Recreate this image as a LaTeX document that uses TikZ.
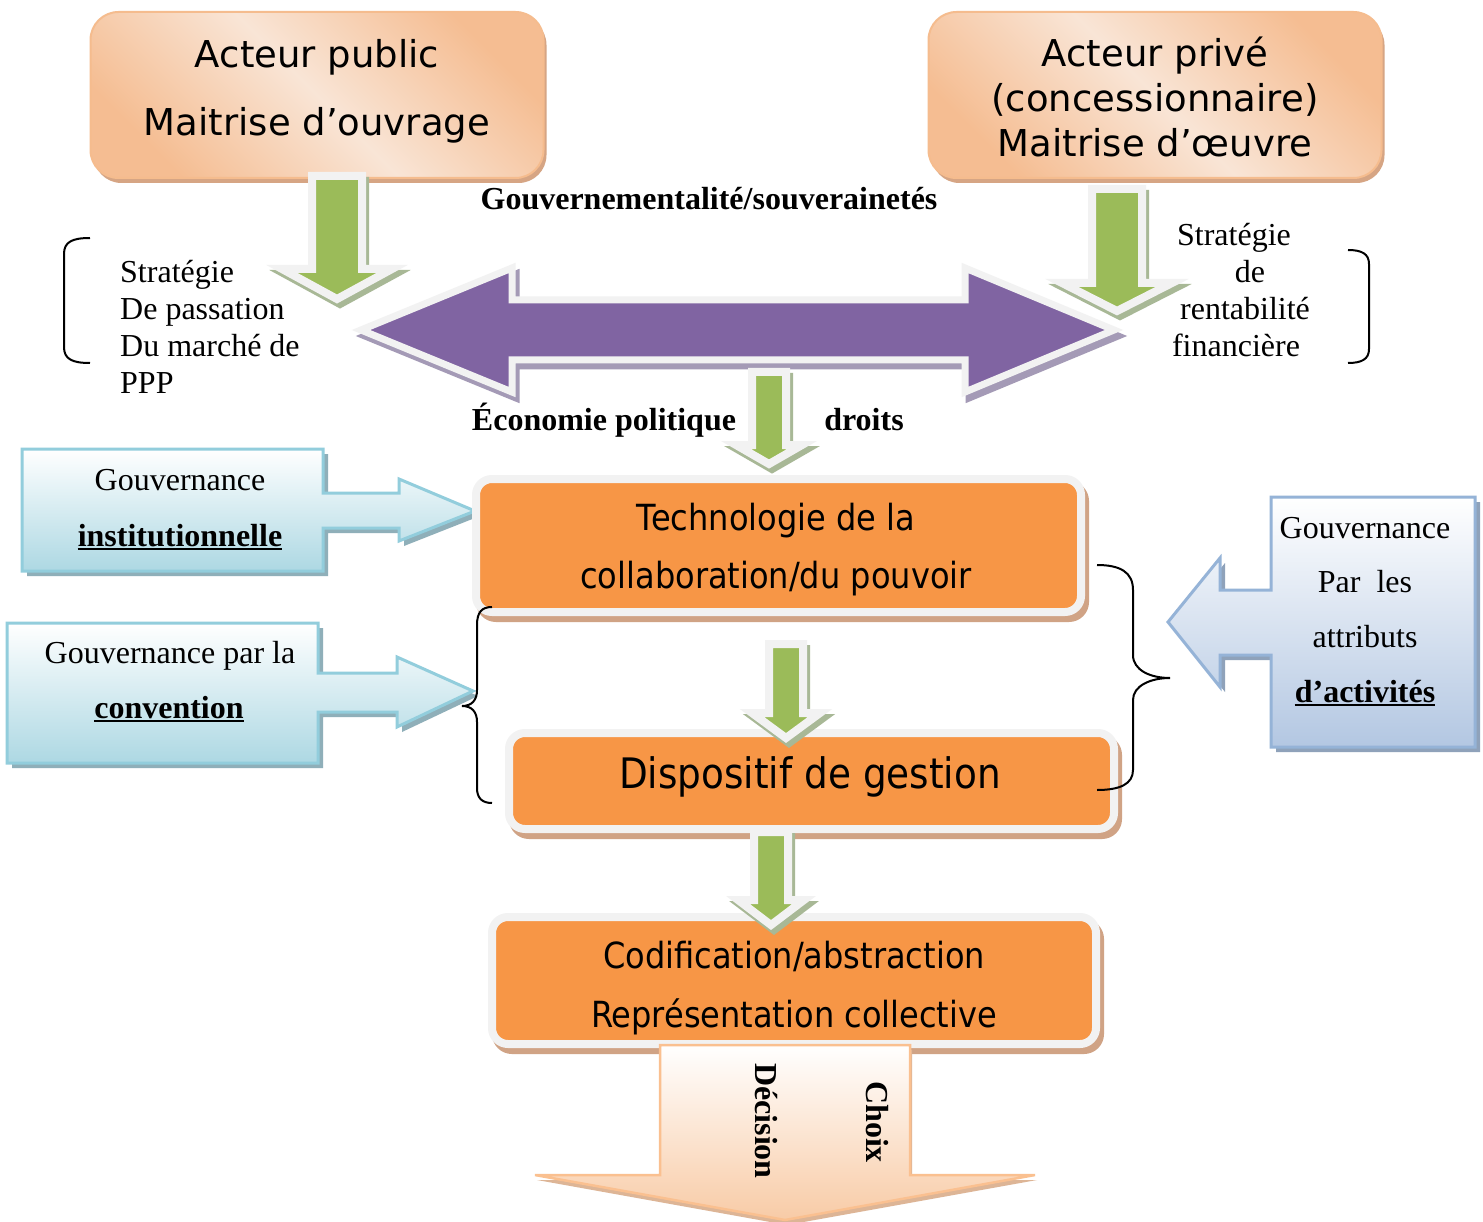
\documentclass[tikz,border=0pt]{standalone}
\usepackage{fontspec}
\setmainfont{Liberation Serif}
\newfontfamily\verd{DejaVu Sans}
\newfontfamily\tahom[FakeStretch=0.89]{DejaVu Sans}
\usetikzlibrary{shadows}
\definecolor{grn}{HTML}{9BBB59}
\definecolor{wbord}{HTML}{F2F2F2}
\definecolor{gshc}{HTML}{A8B896}
\definecolor{purp}{HTML}{8064A2}
\definecolor{pshc}{HTML}{A49AB6}
\definecolor{orng}{HTML}{F79646}
\definecolor{oshc}{HTML}{D0A385}
\definecolor{peachD}{HTML}{F5BD92}
\definecolor{peachL}{HTML}{F9E5D6}
\definecolor{peachB}{HTML}{F5BC8E}
\definecolor{peachS}{HTML}{D6A584}
\definecolor{cyanF}{HTML}{ADD8E3}
\definecolor{cyanB}{HTML}{92CDDC}
\definecolor{cyanS}{HTML}{8FAFB9}
\definecolor{blueF}{HTML}{B3C7E2}
\definecolor{blueB}{HTML}{95B3D7}
\definecolor{blueS}{HTML}{8FA2BA}
\definecolor{bF}{HTML}{F8CBA6}
\definecolor{bB}{HTML}{FAC090}
\definecolor{bS}{HTML}{DDB596}
\newcommand\garr[6]{%
 \path[gsh, shift={(3,5)}] ({#1-#5},#2) -- ({#1+#5},#2) -- ({#1+#5},#3) -- ({#1+#6},#3) -- (#1,#4) -- ({#1-#6},#3) -- ({#1-#5},#3) -- cycle;
 \path[gmain] ({#1-#5},#2) -- ({#1+#5},#2) -- ({#1+#5},#3) -- ({#1+#6},#3) -- (#1,#4) -- ({#1-#6},#3) -- ({#1-#5},#3) -- cycle;
}
\begin{document}
\begin{tikzpicture}[x=1pt,y=-1pt,
 gsh/.style={fill=gshc, draw=gshc, line width=8pt, line join=miter},
 gmain/.style={fill=grn, draw=wbord, line width=8pt, line join=miter},
 topbox/.style={rounded corners=28pt, minimum width=453pt, minimum height=166pt, inner sep=0pt,
   draw=peachB, line width=2pt, top color=peachD, bottom color=peachD, middle color=peachL, shading angle=-45,
   drop shadow={shadow xshift=3pt, shadow yshift=-5pt, fill=peachS, opacity=1}},
 obox/.style={rounded corners=16pt, fill=orng, draw=wbord, line width=8pt, inner sep=0pt,
   drop shadow={shadow xshift=4pt, shadow yshift=-6pt, fill=oshc, draw=oshc, line width=8pt, opacity=1}},
 vtxt/.style={font=\verd\fontsize{37}{44}\selectfont, inner sep=0pt, anchor=base},
 ttxt/.style={font=\tahom\fontsize{36}{44}\selectfont, inner sep=0pt, anchor=base},
 stxt/.style={font=\fontsize{32}{37}\selectfont, inner sep=0pt, anchor=base},
 btxt/.style={font=\fontsize{32}{37}\selectfont\bfseries, inner sep=0pt, anchor=base},
 brace/.style={draw=black, line width=2pt},
 uline/.style={line width=1.6pt}
]
\useasboundingbox[fill=white] (0,0) rectangle (1483,1222);

% top boxes
\node[topbox] (pub) at (317,95) {};
\node[topbox] (priv) at (1155,95) {};
\node[vtxt] (pub1) at (317,68) {Acteur public};
\node[vtxt] (pub2) at (317,136) {Maitrise d’ouvrage};
\node[vtxt] (priv1) at (1155,67) {Acteur privé};
\node[vtxt] (priv2) at (1155,112) {(concessionnaire)};
\node[vtxt] (priv3) at (1155,157) {Maitrise d’œuvre};

% purple double arrow
\path[fill=pshc, draw=pshc, line width=7pt, line join=miter, shift={(4,6)}]
 (361,330) -- (512,268) -- (512,300) -- (965,300) -- (965,268) -- (1114,330) -- (965,392) -- (965,360) -- (512,360) -- (512,392) -- cycle;
\path[fill=purp, draw=wbord, line width=7pt, line join=miter]
 (361,330) -- (512,268) -- (512,300) -- (965,300) -- (965,268) -- (1114,330) -- (965,392) -- (965,360) -- (512,360) -- (512,392) -- cycle;

% green arrows (top)
\garr{337}{176}{269}{299}{25}{55}
\garr{1117}{189}{283}{311}{25}{55}
\garr{769}{372}{445}{464}{17}{33}

% left callouts
\path[fill=cyanS, shift={(5,5)}] (22,449) -- (323,449) -- (323,493) -- (399,493) -- (399,479) -- (475,511) -- (399,541) -- (399,528) -- (323,528) -- (323,571) -- (22,571) -- cycle;
\path[top color=white, bottom color=cyanF, draw=cyanB, line width=3pt, line join=miter] (22,449) -- (323,449) -- (323,493) -- (399,493) -- (399,479) -- (475,511) -- (399,541) -- (399,528) -- (323,528) -- (323,571) -- (22,571) -- cycle;
\path[fill=cyanS, shift={(5,5)}] (7,623) -- (318,623) -- (318,673) -- (397,673) -- (397,657) -- (473,691) -- (397,727) -- (397,712) -- (318,712) -- (318,763) -- (7,763) -- cycle;
\path[top color=white, bottom color=cyanF, draw=cyanB, line width=3pt, line join=miter] (7,623) -- (318,623) -- (318,673) -- (397,673) -- (397,657) -- (473,691) -- (397,727) -- (397,712) -- (318,712) -- (318,763) -- (7,763) -- cycle;

% right callout
\path[fill=blueS, shift={(5,5)}] (1271,497) -- (1475,497) -- (1475,747) -- (1271,747) -- (1271,655) -- (1220,655) -- (1220,687) -- (1168,622) -- (1220,558) -- (1220,590) -- (1271,590) -- cycle;
\path[top color=white, bottom color=blueF, draw=blueB, line width=3pt, line join=miter] (1271,497) -- (1475,497) -- (1475,747) -- (1271,747) -- (1271,655) -- (1220,655) -- (1220,687) -- (1168,622) -- (1220,558) -- (1220,590) -- (1271,590) -- cycle;

% orange boxes
\node[obox, minimum width=605pt, minimum height=133pt] (tech) at (778.5,545.5) {};
\node[obox, minimum width=605pt, minimum height=96pt] (disp) at (811.5,781) {};
\node[obox, minimum width=604pt, minimum height=127pt] (codif) at (794,980.5) {};

% green arrows between boxes
\garr{786}{644}{713}{738}{17}{34}
\garr{771}{832}{900}{925}{17}{33}

% bottom arrow
\path[fill=bS, shift={(2,5)}] (660,1045) -- (910,1045) -- (910,1175) -- (1035,1175) -- (785,1220) -- (535,1175) -- (660,1175) -- cycle;
\path[top color=white, bottom color=bF, draw=bB, line width=2.5pt, line join=miter] (660,1045) -- (910,1045) -- (910,1175) -- (1035,1175) -- (785,1220) -- (535,1175) -- (660,1175) -- cycle;

% braces
\draw[brace] (90,238) .. controls (72,238) and (64,242) .. (64,254) -- (64,347) .. controls (64,359) and (72,363) .. (90,363);
\draw[brace] (1348,250) .. controls (1362,250) and (1369,254) .. (1369,264) -- (1369,349) .. controls (1369,359) and (1362,363) .. (1348,363);
\draw[brace] (492,607) .. controls (482,607) and (477,612) .. (477,625) -- (477,690) .. controls (477,700) and (472,706) .. (462,706) .. controls (472,706) and (477,712) .. (477,722) -- (477,788) .. controls (477,798) and (482,803) .. (492,803);
\draw[brace] (1097,565) .. controls (1120,565) and (1133,572) .. (1133,590) -- (1133,655) .. controls (1133,670) and (1150,678) .. (1170,678) .. controls (1150,678) and (1133,686) .. (1133,700) -- (1133,770) .. controls (1133,784) and (1120,790) .. (1097,790);

% texts in orange boxes
\node[ttxt] (tech1) at (776,530) {Technologie de la};
\node[ttxt] (tech2) at (776,588) {collaboration/du pouvoir};
\node[ttxt, font=\tahom\fontsize{42}{50}\selectfont] (disp1) at (810,788) {Dispositif de gestion};
\node[ttxt] (cod1) at (794,968) {Codification/abstraction};
\node[ttxt] (cod2) at (794,1027) {Représentation collective};

% serif texts
\node[btxt] (gouv) at (709,210) {Gouvernementalité/souverainetés};
\node[btxt] (eco) at (604,430) {Économie politique};
\node[btxt] (droits) at (864,430) {droits};
\node[stxt, anchor=base west] (sl1) at (120,283) {Stratégie};
\node[stxt, anchor=base west] (sl2) at (120,320) {De passation};
\node[stxt, anchor=base west] (sl3) at (120,357) {Du marché de};
\node[stxt, anchor=base west] (sl4) at (120,394) {PPP};
\node[stxt] (sr1) at (1234,246) {Stratégie};
\node[stxt] (sr2) at (1250,283) {de};
\node[stxt] (sr3) at (1245,320) {rentabilité};
\node[stxt] (sr4) at (1236,357) {financière};

% callout texts
\node[stxt] (gi1) at (180,490) {Gouvernance};
\node[btxt] (gi2) at (180,546) {institutionnelle};
\draw[uline] ([yshift=-3pt]gi2.base west) -- ([yshift=-3pt]gi2.base east);
\node[stxt] (gc1) at (170,663) {Gouvernance par la};
\node[btxt] (gc2) at (169,718) {convention};
\draw[uline] ([yshift=-3pt]gc2.base west) -- ([yshift=-3pt]gc2.base east);
\node[stxt] (ga1) at (1365,538) {Gouvernance};
\node[stxt] (ga2) at (1365,592) {Par\ \ les};
\node[stxt] (ga3) at (1365,647) {attributs};
\node[btxt] (ga4) at (1365,702) {d’activités};
\draw[uline] ([yshift=-3pt]ga4.base west) -- ([yshift=-3pt]ga4.base east);

% rotated texts in bottom arrow
\node[font=\fontsize{32}{37}\selectfont\bfseries, inner sep=0pt, rotate=-90] (dec) at (766,1121) {Décision};
\node[font=\fontsize{32}{37}\selectfont\bfseries, inner sep=0pt, rotate=-90] (choix) at (877,1122) {Choix};
\end{tikzpicture}
\end{document}
